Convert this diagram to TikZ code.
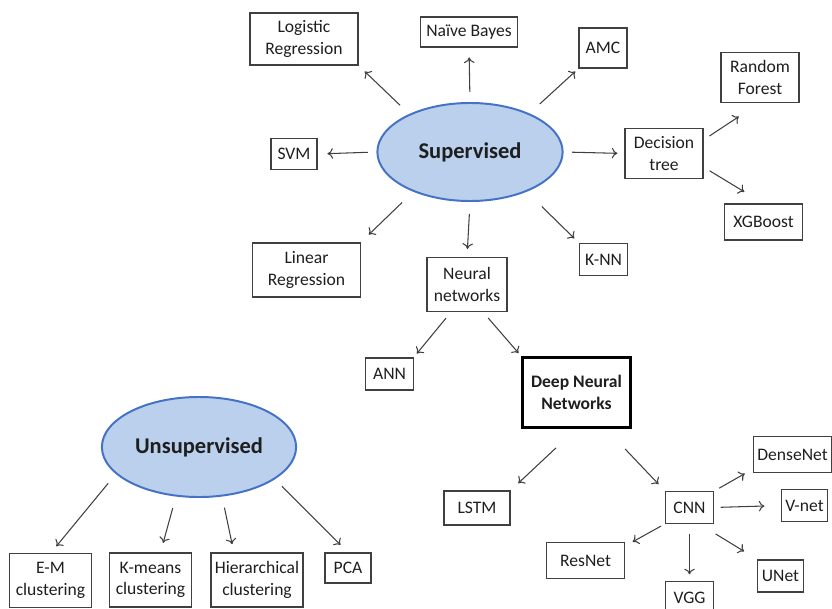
\documentclass[tikz,border=0pt]{standalone}
\usepackage{fontspec}
\setmainfont{Carlito}
\usetikzlibrary{shapes.geometric,arrows.meta}

\definecolor{learnfill}{RGB}{186,208,236}
\definecolor{learnline}{RGB}{68,114,196}
\definecolor{boxline}{RGB}{64,64,64}
\definecolor{txt}{RGB}{30,30,30}

\begin{document}
\begin{tikzpicture}[x=0.025cm, y=-0.025cm, >={To[length=4pt,width=7.5pt]},
    box/.style={draw=boxline, line width=0.8pt, align=center, inner sep=1pt, text=txt,
        font=\fontsize{12.5}{15.4}\selectfont},
    learn/.style={ellipse, draw=learnline, line width=1.4pt, fill=learnfill, minimum width=4.63cm,
        minimum height=2.45cm, text=txt, font=\fontsize{16}{19}\selectfont\bfseries},
    arr/.style={->, draw=black!75, line width=0.75pt, shorten <=6pt, shorten >=5pt}]
\useasboundingbox (0,0) rectangle (832,609);

% supervised learning
\node (sup) at (470,152) [learn] {Supervised};
\node (logit) at (304,39) [box, minimum width=2.7cm, minimum height=1.3cm] {Logistic\\Regression};
\node (nb) at (469,32) [box, minimum width=2.43cm, minimum height=0.75cm] {Naïve Bayes};
\node (amc) at (603,48) [box, minimum width=1.2cm, minimum height=1cm] {AMC};
\node (svm) at (294,154) [box, minimum width=1.15cm, minimum height=0.78cm] {SVM};
\node (tree) at (664,153.5) [box, minimum width=1.95cm, minimum height=1.23cm] {Decision\\tree};
\node (rf) at (760,77.5) [box, minimum width=1.95cm, minimum height=1.23cm] {Random\\Forest};
\node (xgb) at (763.5,222) [box, minimum width=1.93cm, minimum height=0.9cm] {XGBoost};
\node (linreg) at (306.5,270) [box, minimum width=2.68cm, minimum height=1.35cm] {Linear\\Regression};
\node (nn) at (467,284.5) [box, minimum width=2cm, minimum height=1.33cm] {Neural\\networks};
\node (knn) at (603.5,259.5) [box, minimum width=1.18cm, minimum height=0.78cm] {K-NN};
\node (ann) at (389.5,374) [box, minimum width=1.18cm, minimum height=0.8cm] {ANN};
\node (dnn) at (576.5,392.5) [box, draw=black, line width=2.2pt, minimum width=2.68cm,
    minimum height=1.73cm, font=\fontsize{12.5}{15.4}\selectfont\bfseries] {Deep Neural\\Networks};

% deep networks
\node (lstm) at (477,508) [box, minimum width=1.65cm, minimum height=0.85cm] {LSTM};
\node (cnn) at (689.5,507.5) [box, minimum width=1.18cm, minimum height=0.78cm] {CNN};
\node (dense) at (792.5,454.5) [box, minimum width=1.93cm, minimum height=0.88cm] {DenseNet};
\node (vnet) at (804.5,505.5) [box, minimum width=1.13cm, minimum height=0.78cm] {V-net};
\node (resnet) at (585.5,560.5) [box, minimum width=1.93cm, minimum height=0.88cm] {ResNet};
\node (unet) at (780.5,576) [box, minimum width=1.13cm, minimum height=0.8cm] {UNet};
\node (vgg) at (689.5,597.5) [box, minimum width=1.18cm, minimum height=0.78cm] {VGG};

% unsupervised learning
\node (uns) at (199,447) [learn, minimum height=2.5cm] {Unsupervised};
\node (em) at (50.5,580.5) [box, minimum width=2.03cm, minimum height=1.33cm] {E-M\\clustering};
\node (km) at (150.5,580) [box, minimum width=2.03cm, minimum height=1.35cm] {K-means\\clustering};
\node (hier) at (257,580) [box, minimum width=2.3cm, minimum height=1.35cm] {Hierarchical\\clustering};
\node (pca) at (348,568) [box, minimum width=1.15cm, minimum height=0.75cm] {PCA};

\draw [arr, shorten <=9pt, shorten >=6pt] (sup.148) -- (logit.south east);
\draw [arr, shorten <=7pt, shorten >=7pt] (sup.north) -- (nb.south);
\draw [arr, shorten <=10pt, shorten >=3pt] (sup.33) -- (amc.south west);
\draw [arr, shorten <=6pt, shorten >=7pt] (sup.west) -- (svm.east);
\draw [arr] (sup.east) -- (tree.west);
\draw [arr, shorten <=11pt, shorten >=8pt] (sup.215) -- (linreg.north east);
\draw [arr, shorten <=8.5pt, shorten >=6pt] (sup.south) -- (nn.north);
\draw [arr, shorten <=15pt, shorten >=5pt] (sup.-35) -- (knn.north west);
\draw [arr, shorten <=5pt, shorten >=18pt] (tree.19) -- (rf.south);
\draw [arr, shorten <=5pt, shorten >=16pt] (tree.-19) -- (xgb.north);
\draw [arr, shorten >=3.5pt] (nn.-120) -- (ann.north east);
\draw [arr, shorten >=3pt] (nn.-60) -- (dnn.north west);

\draw [arr, shorten <=20pt, shorten >=7.5pt] (dnn.south) -- (lstm.north east);
\draw [arr, shorten <=20pt, shorten >=7pt] (dnn.-51) -- (cnn.north west);
\draw [arr, shorten <=4.5pt, shorten >=7pt] (cnn.north east) -- (dense.200);
\draw [arr, shorten <=5pt, shorten >=12pt] (cnn.east) -- (vnet.west);
\draw [arr, shorten <=3.5pt, shorten >=6.5pt] (cnn.south west) -- (resnet.20);
\draw [arr, shorten <=7pt, shorten >=5pt] (cnn.south) -- (vgg.north);
\draw [arr, shorten <=14pt, shorten >=11pt] (cnn.-60) -- (unet.north west);

\draw [arr, shorten <=8.5pt, shorten >=6.5pt] (uns.198) -- (em.north);
\draw [arr, shorten <=8.5pt, shorten >=7pt] (uns.245) -- (km.70);
\draw [arr, shorten <=8pt, shorten >=6pt] (uns.295) -- (hier.130);
\draw [arr, shorten <=7pt, shorten >=7.5pt] (uns.-23) -- (pca.north);
\end{tikzpicture}
\end{document}
